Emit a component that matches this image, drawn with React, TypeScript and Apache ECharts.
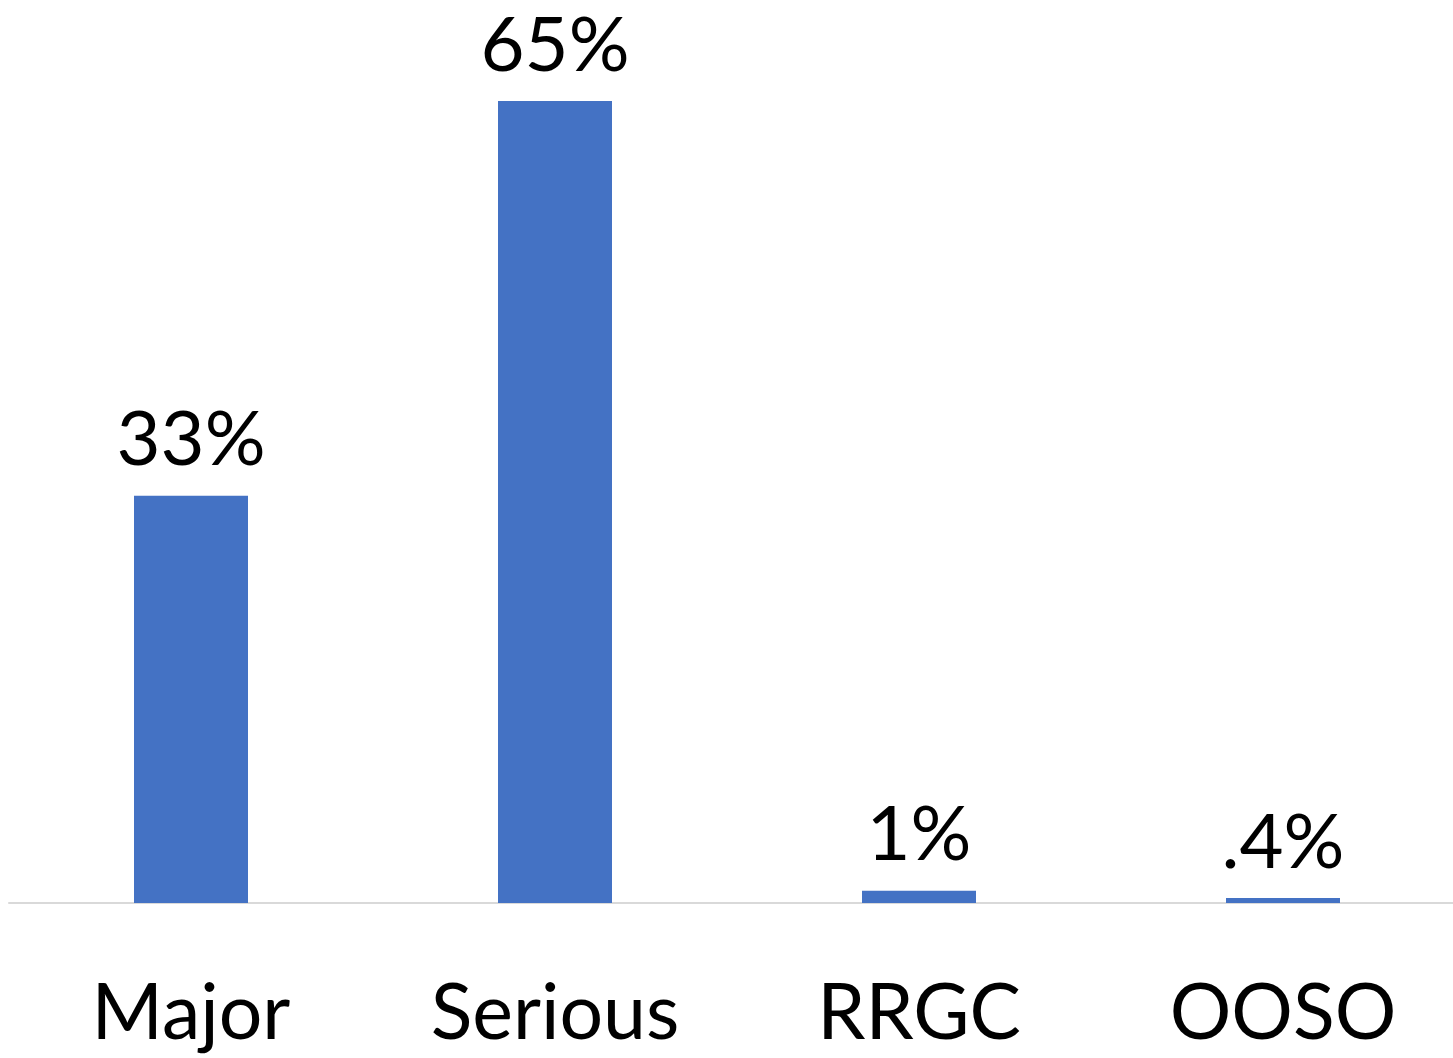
import React, { useEffect, useRef } from "react";
import * as echarts from "echarts";

const categories = ["Major", "Serious", "RRGC", "OOSO"];
const shares = [33, 65, 1, 0.4];
const shareLabels = ["33%", "65%", "1%", ".4%"];

export default function App() {
  const ref = useRef<HTMLDivElement>(null);

  useEffect(() => {
    if (!ref.current) return;
    const chart = echarts.init(ref.current, undefined, { renderer: "svg" });
    const font = "Lato, 'Open Sans', sans-serif";
    chart.setOption({
      animation: false,
      backgroundColor: "#ffffff",
      grid: { left: 9, right: 0, top: 101, bottom: 155, containLabel: false },
      xAxis: {
        type: "category",
        data: categories,
        axisLine: { show: true, lineStyle: { color: "#d9d9d9", width: 2 } },
        axisTick: { show: false },
        axisLabel: {
          color: "#000000",
          fontFamily: font,
          fontSize: 77,
          margin: 67,
        },
      },
      yAxis: {
        type: "value",
        min: 0,
        max: 65,
        show: false,
        splitLine: { show: false },
      },
      series: [
        {
          type: "bar",
          data: shares,
          barWidth: 114,
          itemStyle: { color: "#4472c4" },
          label: {
            show: true,
            position: "top",
            distance: 22,
            color: "#000000",
            fontFamily: font,
            fontSize: 76,
            lineHeight: 76,
            formatter: (p: any) => shareLabels[p.dataIndex],
          },
        },
      ],
    });
    return () => chart.dispose();
  }, []);

  return (
    <div
      style={{
        position: "absolute",
        left: 0,
        top: 0,
        width: 1453,
        height: 1058,
        overflow: "hidden",
        background: "#ffffff",
      }}
    >
      <div ref={ref} style={{ width: 1465, height: 1058 }} />
    </div>
  );
}
